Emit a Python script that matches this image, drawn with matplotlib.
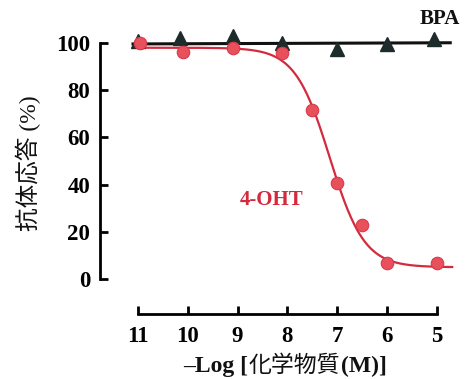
import numpy as np
import matplotlib
matplotlib.use("Agg")
import matplotlib.pyplot as plt

# ---- data ----
bpa_x = [11.0, 10.15, 9.1, 8.1, 7.0, 6.0, 5.05]
bpa_y = [101.0, 102.0, 103.0, 100.0, 97.5, 99.5, 101.5]
bpa_fit_x = [11.1, 4.73]
bpa_fit_y = [99.6, 100.1]

oht_x = [10.95, 10.1, 9.1, 8.1, 7.5, 7.0, 6.5, 6.0, 5.0]
oht_y = [100.0, 96.2, 98.0, 95.8, 71.4, 40.7, 22.7, 6.8, 6.8]
# 4-parameter logistic fit
oht_top, oht_bottom, oht_mid, oht_hill = 98.0, 5.0, 7.15, 1.25
oht_fit_range = (11.1, 4.69)

xticks = [11, 10, 9, 8, 7, 6, 5]
yticks = [0, 20, 40, 60, 80, 100]

RED = '#d42a3e'
RED_FACE = '#e8505c'
DARK = '#1e2b2b'

serif = 'Liberation Serif'
cjk = 'Noto Sans CJK JP'
fam = [serif, cjk]

fig = plt.figure(figsize=(4.66, 3.79), dpi=100)
ax = fig.add_axes([100/466, 1-279/379, 360/466, 236/379])
ax.set_xlim(11.763, 4.534)
ax.set_ylim(0, 100)

# BPA
ax.plot(bpa_fit_x, bpa_fit_y, color='#111111', lw=2.2, clip_on=False, zorder=2)
# 4-OHT curve
xs = np.linspace(oht_fit_range[0], oht_fit_range[1], 300)
ys = oht_bottom + (oht_top - oht_bottom) / (1 + 10 ** (oht_hill * (oht_mid - xs)))
ax.plot(xs, ys, color=RED, lw=1.6, clip_on=False, zorder=3)
ax.plot(bpa_x, bpa_y, linestyle='none', marker='^', ms=10, mfc=DARK, mec=DARK,
        clip_on=False, zorder=4)
ax.plot(oht_x, oht_y, linestyle='none', marker='o', ms=9, mfc=RED_FACE, mec='#d83a4a',
        mew=0.8, clip_on=False, zorder=5)

# spines
for s in ['top', 'right']:
    ax.spines[s].set_visible(False)
ax.spines['left'].set_linewidth(2.0)
ax.spines['bottom'].set_linewidth(2.0)
ax.spines['left'].set_bounds(0, 100)
ax.spines['bottom'].set_bounds(5, 11)
ax.spines['bottom'].set_position(('outward', 25.2))

ax.set_xticks(xticks)
ax.set_xticklabels([str(t) for t in xticks])
ax.set_yticks(yticks)
ax.set_yticklabels([str(t) for t in yticks])
ax.tick_params(axis='both', direction='in', length=6, width=2.0)
ax.tick_params(axis='x', pad=9)
ax.tick_params(axis='y', pad=7)
for lab in ax.get_xticklabels() + ax.get_yticklabels():
    lab.set_fontfamily(serif)
    lab.set_fontweight('bold')
    lab.set_fontsize(16.5)

ax.text(4.93, 110, 'BPA', family=serif, weight='bold', fontsize=15,
        ha='center', va='center', color='#111111')
ax.text(8.31, 33.5, '4-OHT', family=serif, weight='bold', fontsize=15,
        ha='center', va='center', color=RED)

fig.text(28/466, 1-163/379, '抗体応答 (%)', family=fam, fontsize=17,
         rotation=90, ha='center', va='center', color='#111111')

# x label built from pieces: serif bold latin, regular CJK
pieces = [('–Log [', serif, 'bold', 17), ('化学物質', cjk, 'normal', 16.5),
          ('(M)]', serif, 'bold', 17)]
fig.canvas.draw()
renderer = fig.canvas.get_renderer()
base_y = 1 - 372/379
x0 = 183
for s, f, w, size in pieces:
    t = fig.text(x0/466, base_y, s, family=f, weight=w, fontsize=size,
                 ha='left', va='baseline', color='#111111')
    bb = t.get_window_extent(renderer=renderer)
    x0 = bb.x1 + 1

fig.savefig('out.png', dpi=100)
